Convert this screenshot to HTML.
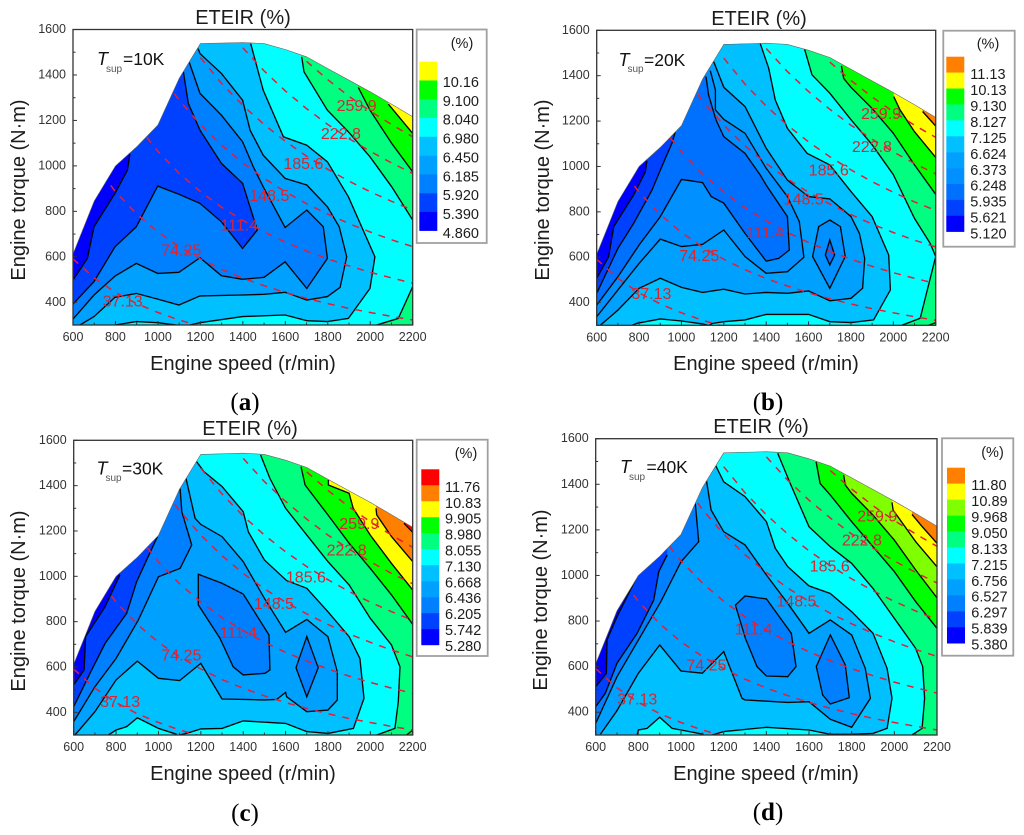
<!DOCTYPE html>
<html lang="en">
<head>
<meta charset="utf-8">
<title>ETEIR contour maps</title>
<style>
html,body{margin:0;padding:0;background:#fff;}
svg{display:block;filter:blur(.35px);}
text{font-family:"Liberation Sans",sans-serif;fill:#1c1c1c;}
.title{font-size:20px;text-anchor:middle;}
.axis{font-size:20px;text-anchor:middle;}
.letter{font-family:"Liberation Serif",serif;font-size:25px;text-anchor:middle;fill:#000;}
.letter tspan{font-weight:bold;}
.pct{font-size:14.5px;text-anchor:middle;}
.tsup{font-size:17.5px;fill:#111;}
.tsup-t{font-size:18px;font-style:italic;fill:#111;}
.tsup-s{font-size:10px;fill:#555;}
</style>
</head>
<body>
<svg id="fig" xmlns="http://www.w3.org/2000/svg" width="1024" height="835" viewBox="0 0 1024 835">
  <rect width="1024" height="835" fill="#fff"/>

  <g id="panel-a"></g>
  <text class="title" x="243" y="24">ETEIR (%)</text>
  <text class="axis" x="243" y="370">Engine speed (r/min)</text>
  <text class="axis" transform="translate(25,190) rotate(-90)">Engine torque (N·m)</text>
  <text class="tsup-t" x="97" y="65">T</text>
  <text class="tsup-s" x="106" y="72">sup</text>
  <text class="tsup" x="123" y="65">=10K</text>
  <text class="pct" x="462" y="48">(%)</text>
  <text class="letter" x="245" y="410">(<tspan>a</tspan>)</text>

  <g id="panel-b"></g>
  <text class="title" x="759" y="25">ETEIR (%)</text>
  <text class="axis" x="766" y="370">Engine speed (r/min)</text>
  <text class="axis" transform="translate(549,190) rotate(-90)">Engine torque (N·m)</text>
  <text class="tsup-t" x="618.5" y="66">T</text>
  <text class="tsup-s" x="627.5" y="72">sup</text>
  <text class="tsup" x="644" y="66">=20K</text>
  <text class="pct" x="988" y="48.5">(%)</text>
  <text class="letter" x="768" y="410">(<tspan>b</tspan>)</text>

  <g id="panel-c"></g>
  <text class="title" x="250" y="435">ETEIR (%)</text>
  <text class="axis" x="243" y="780">Engine speed (r/min)</text>
  <text class="axis" transform="translate(25,601) rotate(-90)">Engine torque (N·m)</text>
  <text class="tsup-t" x="96.5" y="474.5">T</text>
  <text class="tsup-s" x="105.5" y="481">sup</text>
  <text class="tsup" x="122" y="474.5">=30K</text>
  <text class="pct" x="466" y="458">(%)</text>
  <text class="letter" x="245" y="821">(<tspan>c</tspan>)</text>

  <g id="panel-d"></g>
  <text class="title" x="761" y="433">ETEIR (%)</text>
  <text class="axis" x="766" y="780">Engine speed (r/min)</text>
  <text class="axis" transform="translate(547,600) rotate(-90)">Engine torque (N·m)</text>
  <text class="tsup-t" x="620" y="473">T</text>
  <text class="tsup-s" x="629" y="480">sup</text>
  <text class="tsup" x="646.5" y="473">=40K</text>
  <text class="pct" x="992.5" y="457">(%)</text>
  <text class="letter" x="768" y="820">(<tspan>d</tspan>)</text>
</svg>

<script>
/* ---------- shared data ---------- */
const speedTickLabels = [600,800,1000,1200,1400,1600,1800,2000,2200];
const torqueTickLabels = [400,600,800,1000,1200,1400,1600];
const speedMinorTicks = [700,900,1100,1300,1500,1700,1900,2100];
const torqueMinorTicks = [300,500,700,900,1100,1300,1500];

const envelopeSpeed = [600,700,800,900,1000,1100,1200,1400,1500,1600,1700,1800,1900,2000,2100,2200,2200,600];
const envelopeTorque = [612,845,1000,1084,1180,1385,1538,1543,1538,1512,1480,1428,1377,1326,1272,1216,300,300];

const isoPowerLabels = ['37.13','74.25','111.4','148.5','185.6','222.8','259.9'];
const isoSpeeds = [
  [600,700,800,900,1000,1100,1200,1300],
  [700,800,900,1000,1100,1200,1300,1400,1500,1600,1700,1800,1900,2000,2100,2200],
  [800,900,1000,1100,1200,1300,1400,1500,1600,1700,1800,1900,2000,2100,2200],
  [1000,1100,1200,1300,1400,1500,1600,1700,1800,1900,2000,2100,2200],
  [1200,1300,1400,1500,1600,1700,1800,1900,2000,2100,2200],
  [1400,1500,1600,1700,1800,1900,2000,2100,2200],
  [1700,1800,1900,2000,2100,2200]
];
const isoTorques = [
  [591,507,443,394,355,322,295,273],
  [1013,886,788,709,645,591,545,506,473,443,417,394,373,355,338,322],
  [1330,1182,1064,967,887,818,760,709,665,626,591,560,532,507,484],
  [1418,1289,1182,1091,1013,945,886,834,788,746,709,675,645],
  [1477,1363,1266,1182,1108,1043,985,933,886,844,806],
  [1520,1418,1330,1252,1182,1120,1064,1013,967],
  [1460,1379,1306,1241,1182,1128]
];

/* ---------- panel (a) ---------- */
const legendLabelsA = ['10.16','9.100','8.040','6.980','6.450','6.185','5.920','5.390','4.860'];
const paletteA = ['#ffff00','#00ff00','#00ff80','#00ffff','#00c0ff','#00a0ff','#0080ff','#0040ff','#0000ff'];
const isoLabelSpeedA = [834,1110,1383,1525,1685,1862,1936];
const isoLabelTorqueA = [405,630,740,869,1011,1143,1266];
const levelsA = [
  {open:[[[2085,1272],[2200,1143]]]},
  {open:[[[1944,1345],[1999,1245],[2101,1099],[2200,974]]]},
  {open:[[[1677,1480],[1688,1414],[1798,1245],[1897,1150],[1999,1040],[2101,908],[2200,762]],
         [[2200,469],[2132,329],[2030,300]]]},
  {open:[[[1437,1538],[1496,1333],[1591,1128],[1701,1091],[1798,1018],[1897,864],[2022,600],[1999,461],[1897,329],[1798,315],[1701,319],[1599,344],[1399,337],[1198,310],[1151,300]],
         [[1088,300],[999,310],[898,315],[798,300]]]},
  {open:[[[1189,1516],[1198,1494],[1299,1407],[1399,1289],[1434,1157],[1496,1047],[1599,945],[1701,916],[1798,820],[1854,732],[1889,600],[1858,466],[1798,425],[1701,410],[1599,444],[1500,435],[1399,432],[1198,428],[1099,388],[999,414],[898,439],[798,422],[699,337],[633,300]]]},
  {open:[[[1148,1455],[1198,1319],[1299,1223],[1399,1106],[1449,996],[1496,908],[1599,729],[1701,806],[1779,732],[1798,593],[1701,461],[1599,578],[1500,510],[1399,501],[1299,517],[1198,596],[1099,532],[999,527],[898,571],[798,515],[699,432],[600,326]]]},
  {open:[[[1120,1414],[1143,1275],[1198,1157],[1299,1011],[1399,923],[1468,718],[1399,637],[1299,754],[1198,835],[1099,875],[999,911],[898,732],[798,644],[699,491],[600,392]]]},
  {open:[[[868,1052],[856,981],[798,879],[699,732],[668,593],[600,498]]]}
];

/* ---------- panel (b) ---------- */
const legendLabelsB = ['11.13','10.13','9.130','8.127','7.125','6.624','6.373','6.248','5.935','5.621','5.120'];
const paletteB = ['#ff8000','#ffff00','#00ff00','#00ff80','#00ffff','#00c0ff','#00a0ff','#0090ff','#0070ff','#0040ff','#0000ff'];
const isoLabelSpeedB = [858,1084,1396,1577,1695,1899,1942];
const isoLabelTorqueB = [441,607,710,857,984,1087,1234];
const levelsB = [
  {open:[[[2138,1242],[2200,1178]]]},
  {open:[[[2002,1308],[2032,1249],[2100,1153],[2200,1040]]]},
  {open:[[[1755,1443],[1766,1388],[1800,1349],[1900,1256],[2000,1146],[2100,1007],[2200,877]],
         [[2200,312],[2167,300]]]},
  {open:[[[1581,1518],[1616,1404],[1700,1323],[1800,1206],[1900,1096],[2000,964],[2100,771],[2174,661],[2200,603],[2127,331],[2040,300]]]},
  {open:[[[1372,1541],[1412,1433],[1443,1293],[1500,1168],[1593,1058],[1700,1007],[1800,889],[1900,779],[1978,610],[1986,456],[1907,324],[1800,312],[1700,316],[1600,348],[1400,348],[1300,324],[1200,316],[1145,308],[1130,300]],
         [[1125,300],[1100,306],[1000,319],[900,328],[790,309],[767,300]]]},
  {open:[[[1152,1462],[1200,1349],[1300,1264],[1400,1080],[1500,940],[1600,867],[1700,857],[1800,779],[1840,705],[1865,595],[1855,463],[1800,419],[1700,408],[1600,451],[1500,441],[1400,445],[1300,438],[1200,459],[1100,445],[1000,467],[900,507],[800,463],[700,367],[617,300]]]},
  {open:[[[1136,1422],[1160,1337],[1160,1249],[1200,1208],[1300,1146],[1400,992],[1500,867],[1556,757],[1578,600],[1500,536],[1400,529],[1300,603],[1200,720],[1100,657],[1000,647],[900,680],[800,573],[700,456],[600,338]]],
   islands:[[[1700,764],[1750,735],[1773,603],[1700,463],[1619,603],[1648,735]]]},
  {open:[[[1116,1396],[1128,1315],[1163,1205],[1200,1131],[1300,1058],[1372,962],[1400,918],[1500,779],[1509,632],[1459,595],[1400,583],[1300,705],[1200,838],[1141,867],[1100,929],[1000,943],[900,779],[800,654],[700,514],[600,389]]],
   islands:[[[1700,676],[1723,610],[1700,566],[1679,610]]]},
  {open:[[[971,1153],[955,1102],[900,984],[861,896],[774,749],[700,639],[600,441]]]},
  {open:[[[837,1025],[830,977],[774,874],[680,735],[656,602],[600,507]]]}
];

/* ---------- panel (c) ---------- */
const legendLabelsC = ['11.76','10.83','9.905','8.980','8.055','7.130','6.668','6.436','6.205','5.742','5.280'];
const paletteC = ['#ff0000','#ff8000','#ffff00','#00ff00','#00ff80','#00ffff','#00c0ff','#00a0ff','#0080ff','#0040ff','#0000ff'];
const isoLabelSpeedC = [819,1108,1377,1545,1696,1888,1948];
const isoLabelTorqueC = [447,653,753,881,996,1116,1234];
const levelsC = [
  {open:[[[2159,1234],[2200,1194]]]},
  {open:[[[2027,1300],[2030,1271],[2100,1175],[2200,1065]]]},
  {open:[[[1802,1425],[1802,1403],[1900,1366],[1919,1300],[2000,1182],[2100,1057],[2200,940]]]},
  {open:[[[1673,1484],[1692,1403],[1800,1271],[1900,1146],[2000,1035],[2100,918],[2200,788]],
         [[2200,322],[2171,300]]]},
  {open:[[[1482,1535],[1526,1432],[1600,1300],[1700,1182],[1800,1065],[1900,962],[2000,815],[2100,697],[2140,601],[2132,447],[2116,329],[2030,300]]]},
  {open:[[[1180,1506],[1215,1462],[1300,1396],[1400,1285],[1424,1197],[1500,1072],[1605,981],[1700,947],[1800,844],[1900,734],[1951,638],[1970,462],[1920,329],[1800,307],[1700,315],[1600,351],[1400,362],[1300,329],[1200,327],[1149,312],[1100,300]],
         [[1086,303],[1000,329],[900,376],[850,337],[800,322],[764,300]]]},
  {open:[[[1130,1432],[1173,1256],[1200,1229],[1300,1175],[1400,1065],[1500,903],[1600,753],[1700,810],[1800,734],[1844,579],[1844,454],[1800,410],[1700,403],[1605,469],[1600,488],[1558,457],[1500,455],[1300,459],[1200,616],[1100,540],[1000,550],[900,626],[800,543],[700,403],[606,300]]]},
  {open:[[[1102,1388],[1110,1285],[1157,1138],[1102,1035],[1000,998],[905,807],[800,638],[700,513],[600,359]]],
   islands:[[[1188,1009],[1300,969],[1400,922],[1522,741],[1526,587],[1503,572],[1400,565],[1353,601],[1290,727],[1188,874]],
            [[1700,734],[1754,597],[1700,469],[1649,597]]]},
  {open:[[[995,1175],[897,976],[850,837],[748,704],[677,572],[600,425]]]},
  {open:[[[818,1006],[748,866],[656,734],[649,587],[600,521]]]}
];

/* ---------- panel (d) ---------- */
const legendLabelsD = ['11.80','10.89','9.968','9.050','8.133','7.215','6.756','6.527','6.297','5.839','5.380'];
const paletteD = ['#ff8000','#ffff00','#80ff00','#00ff00','#00ff80','#00ffff','#00c0ff','#00a0ff','#0080ff','#0040ff','#0000ff'];
const isoLabelSpeedD = [795,1119,1340,1541,1697,1848,1920];
const isoLabelTorqueD = [458,607,765,888,1042,1156,1261];
const levelsD = [
  {open:[[[2083,1268],[2130,1215],[2200,1141]]]},
  {open:[[[1989,1321],[1994,1287],[2100,1148],[2200,1038]]]},
  {open:[[[1762,1441],[1770,1397],[1800,1360],[1900,1265],[2000,1155],[2100,1024],[2200,902]]]},
  {open:[[[1633,1499],[1652,1404],[1700,1353],[1800,1236],[1900,1126],[2000,1017],[2100,885],[2200,768]]]},
  {open:[[[1453,1536],[1512,1404],[1600,1214],[1700,1126],[1800,1053],[1900,943],[2000,812],[2100,680],[2133,600],[2142,461],[2130,329],[2083,300]]]},
  {open:[[[1161,1484],[1200,1411],[1300,1346],[1400,1236],[1442,1119],[1500,1039],[1600,954],[1700,921],[1800,841],[1900,746],[1966,592],[1989,461],[1966,329],[1900,307],[1800,303],[1700,303],[1600,322],[1400,334],[1200,315],[1145,300]],
         [[1106,303],[1000,322],[958,329],[900,378],[841,329],[800,322],[794,300]]]},
  {open:[[[1119,1419],[1141,1287],[1200,1192],[1300,1134],[1400,1002],[1500,878],[1600,746],[1700,805],[1800,739],[1864,592],[1888,461],[1800,334],[1700,369],[1600,446],[1500,443],[1300,454],[1286,461],[1200,666],[1100,571],[1000,581],[900,695],[800,571],[700,407],[622,303]]]},
  {open:[[[1067,1316],[1083,1148],[1000,1060],[905,885],[800,717],[700,556],[600,351]]],
   islands:[[[1255,870],[1300,910],[1400,897],[1517,746],[1539,600],[1500,556],[1400,559],[1356,600],[1302,724]],
            [[1700,739],[1770,607],[1789,464],[1700,436],[1664,475],[1634,600]]]},
  {open:[[[935,1090],[896,1017],[872,892],[794,746],[700,615],[645,483],[600,424]]]},
  {open:[[[794,995],[700,819],[653,717],[650,571],[600,512]]]}
];

/* ---------- drawing ---------- */
const SVGNS = 'http://www.w3.org/2000/svg';
function mk(parent, tag) {
  const node = document.createElementNS(SVGNS, tag);
  parent.appendChild(node);
  return node;
}
function pointList(pts) {
  return pts.map(function (p) { return p[0].toFixed(1) + ',' + p[1].toFixed(1); }).join(' ');
}

function drawPanel(id, g, levels, palette, legendLabels, labelSpeed, labelTorque, lg) {
  const root = document.getElementById(id);
  const X = function (v) { return g.x0 + (v - 600) / 1600 * (g.x1 - g.x0); };
  const Y = function (v) { return g.y1 - (v - 300) / 1300 * (g.y1 - g.y0); };
  const toPx = function (p) { return [X(p[0]), Y(p[1])]; };

  const envelopePx = envelopeSpeed.map(function (s, i) { return [X(s), Y(envelopeTorque[i])]; });

  const defs = mk(root, 'defs');
  const clip = mk(defs, 'clipPath');
  clip.setAttribute('id', id + '-clip');
  const clipPoly = mk(clip, 'polygon');
  clipPoly.setAttribute('points', pointList(envelopePx));

  const map = mk(root, 'g');
  map.setAttribute('clip-path', 'url(#' + id + '-clip)');
  
  

  const base = mk(map, 'polygon');
  base.setAttribute('points', pointList(envelopePx));
  base.setAttribute('fill', palette[0]);
  
  

  levels.forEach(function (level, i) {
    const colour = palette[i + 1];
    const joined = [].concat.apply([], level.open);
    const first = joined[0];
    const last = joined[joined.length - 1];
    const closure = [[last[0], 250], [500, 250], [500, 1700], [first[0], 1700]];
    const band = mk(map, 'polygon');
    band.setAttribute('points', pointList(joined.concat(closure).map(toPx)));
    band.setAttribute('fill', colour);
    
    

    level.open.forEach(function (seg) {
      const line = mk(map, 'polyline');
      line.setAttribute('points', pointList(seg.map(toPx)));
      line.setAttribute('fill', 'none');
      line.setAttribute('stroke', '#050505');
      line.setAttribute('stroke-width', '1.35');
      
      
    });

    (level.islands || []).forEach(function (ring) {
      const island = mk(map, 'polygon');
      island.setAttribute('points', pointList(ring.map(toPx)));
      island.setAttribute('fill', colour);
      island.setAttribute('stroke', '#050505');
      island.setAttribute('stroke-width', '1.35');
      
      
    });
  });

  isoSpeeds.forEach(function (speeds, i) {
    const pts = speeds.map(function (s, j) { return [X(s), Y(isoTorques[i][j])]; });
    const iso = mk(map, 'polyline');
    iso.setAttribute('points', pointList(pts));
    iso.setAttribute('fill', 'none');
    iso.setAttribute('stroke', '#e81c38');
    iso.setAttribute('stroke-width', '1.5');
    iso.setAttribute('stroke-dasharray', '7 7');
    
    
  });

  const outline = mk(root, 'polyline');
  outline.setAttribute('points', pointList(envelopePx.slice(0, 16)));
  outline.setAttribute('fill', 'none');
  outline.setAttribute('stroke', '#666');
  outline.setAttribute('stroke-width', '0.6');
  
  

  isoPowerLabels.forEach(function (label, i) {
    const t = mk(root, 'text');
    t.textContent = label;
    t.setAttribute('x', X(labelSpeed[i]));
    t.setAttribute('y', Y(labelTorque[i]) + 5.5);
    t.setAttribute('text-anchor', 'middle');
    t.setAttribute('style', 'font-size:16px;fill:#dc2430');
    
    
  });

  const frame = mk(root, 'rect');
  frame.setAttribute('x', g.x0);
  frame.setAttribute('y', g.y0);
  frame.setAttribute('width', g.x1 - g.x0);
  frame.setAttribute('height', g.y1 - g.y0);
  frame.setAttribute('fill', 'none');
  frame.setAttribute('stroke', '#333');
  frame.setAttribute('stroke-width', '1.3');
  
  

  function tick(x1, y1, x2, y2) {
    const ln = mk(root, 'line');
    ln.setAttribute('x1', x1);
    ln.setAttribute('y1', y1);
    ln.setAttribute('x2', x2);
    ln.setAttribute('y2', y2);
    ln.setAttribute('stroke', '#333');
    ln.setAttribute('stroke-width', '1');
    
    
  }
  speedTickLabels.forEach(function (v) {
    tick(X(v), g.y1, X(v), g.y1 - 4);
    const t = mk(root, 'text');
    t.textContent = String(v);
    t.setAttribute('x', X(v));
    t.setAttribute('y', g.y1 + 16);
    t.setAttribute('text-anchor', 'middle');
    t.setAttribute('style', 'font-size:12.5px;fill:#333');
    
    
  });
  speedMinorTicks.forEach(function (v) { tick(X(v), g.y1, X(v), g.y1 - 2.5); });
  torqueTickLabels.forEach(function (v) {
    tick(g.x0, Y(v), g.x0 + 4, Y(v));
    const t = mk(root, 'text');
    t.textContent = String(v);
    t.setAttribute('x', g.x0 - 7);
    t.setAttribute('y', Y(v) + 3.5);
    t.setAttribute('text-anchor', 'end');
    t.setAttribute('style', 'font-size:12.5px;fill:#333');
    
    
  });
  torqueMinorTicks.forEach(function (v) { tick(g.x0, Y(v), g.x0 + 2.5, Y(v)); });

  const box = mk(root, 'rect');
  box.setAttribute('x', lg.bx0);
  box.setAttribute('y', lg.by0);
  box.setAttribute('width', lg.bx1 - lg.bx0);
  box.setAttribute('height', lg.by1 - lg.by0);
  box.setAttribute('fill', '#fff');
  box.setAttribute('stroke', '#a0a0a0');
  box.setAttribute('stroke-width', '1.8');
  
  

  const swatchH = (lg.sy1 - lg.sy0) / palette.length;
  palette.forEach(function (c, i) {
    const sw = mk(root, 'rect');
    sw.setAttribute('x', lg.sx);
    sw.setAttribute('y', lg.sy0 + i * swatchH);
    sw.setAttribute('width', 18);
    sw.setAttribute('height', swatchH + 0.2);
    sw.setAttribute('fill', c);
    
    
  });
  legendLabels.forEach(function (label, i) {
    const t = mk(root, 'text');
    t.textContent = label;
    t.setAttribute('x', lg.tx);
    t.setAttribute('y', lg.ty0 + (lg.ty1 - lg.ty0) * i / (legendLabels.length - 1) + 5.2);
    t.setAttribute('style', 'font-size:14.5px;fill:#1c1c1c');
    
    
  });
}

drawPanel('panel-a', {x0:73,x1:412.7,y0:29.5,y1:325}, levelsA, paletteA, legendLabelsA, isoLabelSpeedA, isoLabelTorqueA,
  {bx0:416.7,bx1:486.7,by0:29.5,by1:243,sx:419.3,sy0:61.7,sy1:230.7,tx:442.7,ty0:81.7,ty1:232.7});
drawPanel('panel-b', {x0:596.7,x1:935.7,y0:30.3,y1:325.3}, levelsB, paletteB, legendLabelsB, isoLabelSpeedB, isoLabelTorqueB,
  {bx0:943.3,bx1:1014.7,by0:30.7,by1:246.7,sx:946.3,sy0:56.7,sy1:231.7,tx:970.3,ty0:74,ty1:233.3});
drawPanel('panel-c', {x0:73.7,x1:412.7,y0:440.3,y1:735}, levelsC, paletteC, legendLabelsC, isoLabelSpeedC, isoLabelTorqueC,
  {bx0:416.7,bx1:487.7,by0:439.7,by1:656,sx:421.3,sy0:469.3,sy1:645,tx:445,ty0:486.7,ty1:645.7});
drawPanel('panel-d', {x0:595.7,x1:937,y0:438.7,y1:735}, levelsD, paletteD, legendLabelsD, isoLabelSpeedD, isoLabelTorqueD,
  {bx0:942,bx1:1013.3,by0:438.3,by1:655.7,sx:947,sy0:467.7,sy1:643.3,tx:971.3,ty0:485,ty1:644.3});
</script>
</body>
</html>
